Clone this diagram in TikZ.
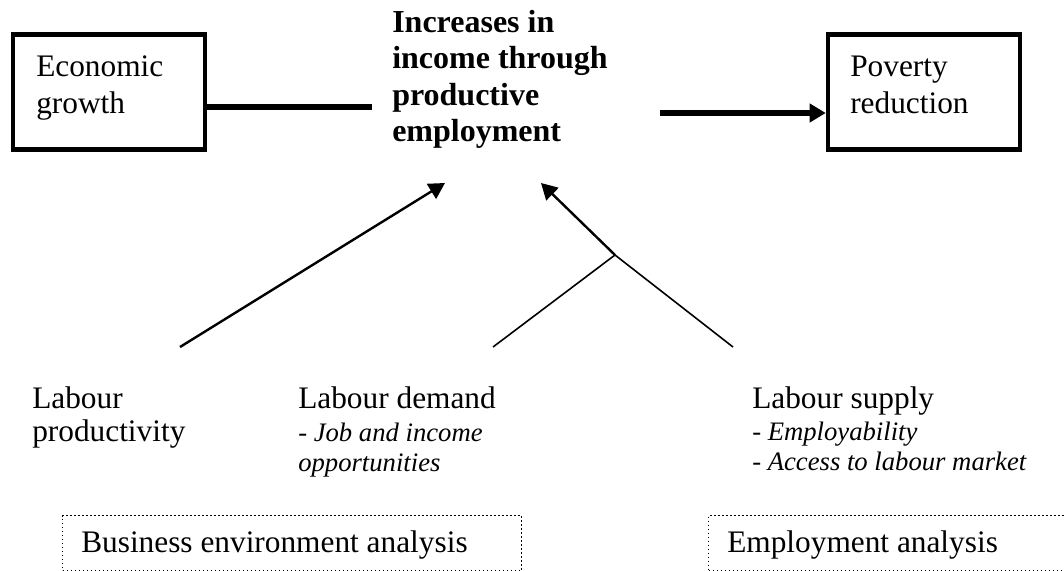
\documentclass[tikz,border=0pt]{standalone}
\usepackage{fontspec}
\setmainfont{Liberation Serif}
\usetikzlibrary{arrows.meta}
\begin{document}
\begin{tikzpicture}[x=0.75pt,y=-0.75pt,
  mainbox/.style={draw, line width=3.4pt, minimum width=144pt, minimum height=86.6pt, inner sep=0pt},
  anabox/.style={draw, line width=1.1pt, dash pattern=on 1.1pt off 1.9pt, anchor=north west, inner sep=0pt},
  txt/.style={anchor=base west, inner sep=0pt},
  boxtxt/.style={txt, font=\fontsize{23.5pt}{27.75pt}\selectfont},
  lowtxt/.style={txt, font=\fontsize{23.5pt}{24.75pt}\selectfont},
  subtxt/.style={txt, font=\fontsize{20pt}{22.9pt}\selectfont\itshape},
  boldtxt/.style={txt, font=\fontsize{24pt}{27.4pt}\selectfont\bfseries},
  thickconn/.style={line width=4.5pt},
  thinarrow/.style={line width=1.8pt, -{Triangle[length=12pt,width=13pt]}},
  branch/.style={line width=1.2pt},
  bigtip/.style={-{Triangle[length=12pt,width=13.5pt]}}
]
\useasboundingbox (0,0) rectangle (1064,571);

% top boxes
\node[mainbox] (eco) at (109,92) {};
\node[boxtxt] (ecotext) at (36,76) {\begin{tabular}[t]{@{}l@{}}Economic\\ growth\end{tabular}};
\node[mainbox] (pov) at (924,92) {};
\node[boxtxt] (povtext) at (850,76) {\begin{tabular}[t]{@{}l@{}}Poverty\\ reduction\end{tabular}};

% central bold text
\node[boldtxt] (incr) at (392,32) {\begin{tabular}[t]{@{}l@{}}Increases in\\ income through\\ productive\\ employment\end{tabular}};

% connector coordinates
\coordinate (inL) at (372,107);
\coordinate (inR) at (660,113);
\draw[thickconn] (eco.east |- inL) -- (inL);
\draw[thickconn, bigtip] (inR) -- (pov.west |- inR);

% lower labels
\node[lowtxt] (prod) at (32,408) {\begin{tabular}[t]{@{}l@{}}Labour\\ productivity\end{tabular}};
\node[lowtxt] (dem) at (298,408) {Labour demand};
\node[subtxt] (demsub) at (298,441) {\begin{tabular}[t]{@{}l@{}}- Job and income\\ opportunities\end{tabular}};
\node[lowtxt] (sup) at (752,408) {Labour supply};
\node[subtxt] (supsub) at (752,440) {\begin{tabular}[t]{@{}l@{}}- Employability\\ - Access to labour market\end{tabular}};

% arrows
\coordinate (tipA) at (445,183);
\coordinate (tipB) at (541,183);
\coordinate (junc) at (615,255);
\coordinate (prodtop) at (180,347);
\coordinate (demtop) at (493,347);
\coordinate (suptop) at (733,347);
\draw[thinarrow] (prodtop) -- (tipA);
\draw[branch] (demtop) -- (junc) -- (suptop);
\draw[thinarrow] (junc) -- (tipB);

% analysis boxes
\node[anabox, minimum width=344.25pt, minimum height=41.25pt] (bea) at (62,515) {};
\node[boxtxt] (beatext) at (81,552) {Business environment analysis};
\node[anabox, minimum width=279pt, minimum height=41.25pt] (ema) at (708,515) {};
\node[boxtxt] (ematext) at (727,552) {Employment analysis};
\end{tikzpicture}
\end{document}
